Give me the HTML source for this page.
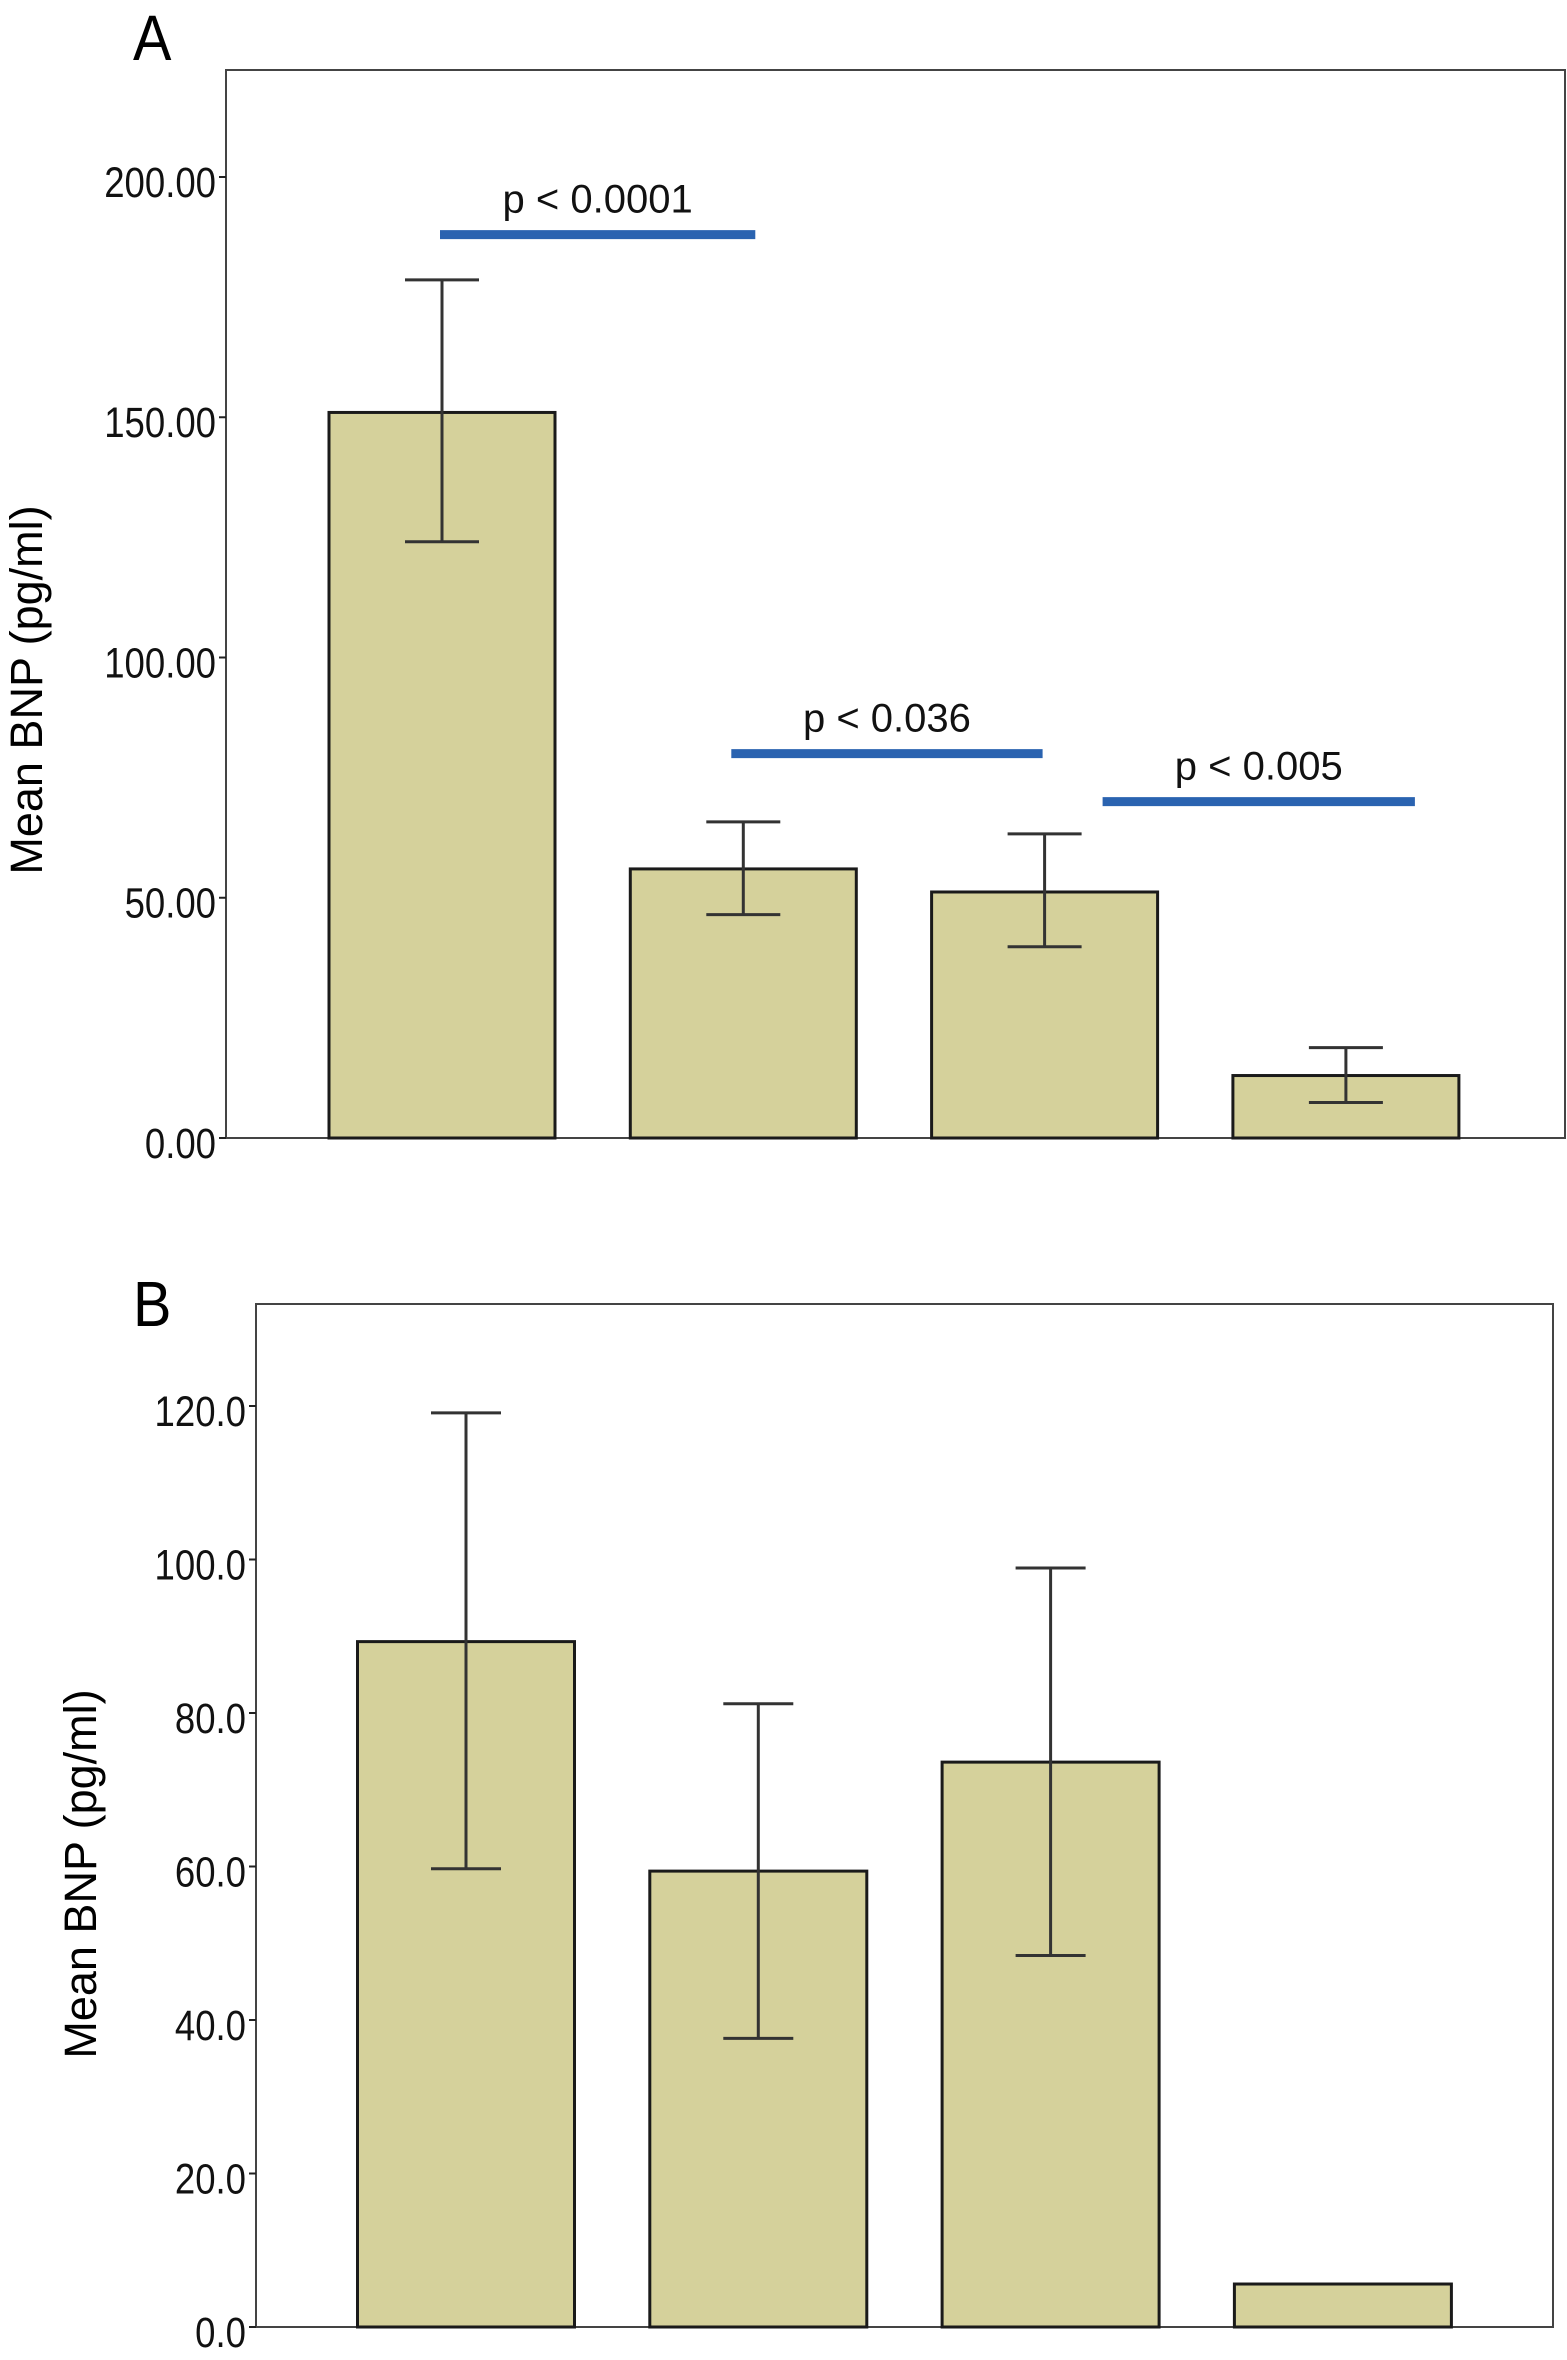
<!DOCTYPE html>
<html><head><meta charset="utf-8"><style>
html,body{margin:0;padding:0;background:#fff;}
svg{display:block;font-family:"Liberation Sans",sans-serif;}
</style></head><body>
<svg id="chart" width="1567" height="2360" viewBox="0 0 1567 2360" xmlns="http://www.w3.org/2000/svg"></svg>
<script>
// Panel A data
const catsA = ["g1","g2","g3","g4"];
const meansA = [151.0, 56.0, 51.2, 13.0];
const hiA = [178.6, 65.8, 63.3, 18.8];
const loA = [124.1, 46.5, 39.8, 7.4];
const ticksA = [0, 50, 100, 150, 200];
const tickLabelsA = ["0.00","50.00","100.00","150.00","200.00"];
const pLabels = ["p < 0.0001","p < 0.036","p < 0.005"];
const pLevels = [188, 80, 70];
const pFrom = [0, 1, 2];
// Panel B data
const catsB = ["g1","g2","g3","g4"];
const meansB = [89.3, 59.4, 73.6, 5.6];
const hiB = [119.1, 81.2, 98.9, null];
const loB = [59.7, 37.6, 48.4, null];
const ticksB = [0, 20, 40, 60, 80, 100, 120];
const tickLabelsB = ["0.0","20.0","40.0","60.0","80.0","100.0","120.0"];

// style offsets for bracket ends (pixels, not data)
const pOffL = [-2, -12, 58];
const pOffR = [12, -2, 69];

const NS = "http://www.w3.org/2000/svg";
const svg = document.getElementById("chart");
function mk(tag, attrs, parent, text){
  const e = document.createElementNS(NS, tag);
  for (const k in attrs) e.setAttribute(k, attrs[k]);
  if (text !== undefined) e.textContent = text;
  (parent || svg).appendChild(e);
  return e;
}

function panel(cfg){
  const g = mk("g", {});
  
  
  const y = v => cfg.y0 - v * (cfg.y0 - cfg.yTop) / cfg.vTop;
  const x = i => cfg.firstCenter + i * cfg.spacing;
  const fr = mk("rect", {x: cfg.left, y: cfg.top, width: cfg.right - cfg.left, height: cfg.y0 - cfg.top, fill: "none", stroke: "#444", "stroke-width": 2}, g);
  
  
  cfg.ticks.forEach((t, i) => {
    const tk = mk("line", {x1: cfg.left - 7, x2: cfg.left, y1: y(t), y2: y(t), stroke: "#222", "stroke-width": 2}, g);
    
    
    const lb = mk("text", {x: cfg.left - 10, y: y(t) + 20, "text-anchor": "end", "font-size": 43, fill: "#111", transform: `translate(${cfg.left-10},0) scale(0.85,1) translate(${-(cfg.left-10)},0)`}, g, cfg.tickLabels[i]);
    
    
  });
  cfg.means.forEach((m, i) => {
    const b = mk("rect", {x: x(i) - cfg.bw/2, y: y(m), width: cfg.bw, height: y(0) - y(m), fill: "#d5d19b", stroke: "#1a1a1a", "stroke-width": 3}, g);
    
    
    if (cfg.hi[i] !== null) {
      const eg = mk("g", {stroke: "#333", "stroke-width": 3}, g);
      
      
      mk("line", {x1: x(i), x2: x(i), y1: y(cfg.hi[i]), y2: y(cfg.lo[i])}, eg);
      mk("line", {x1: x(i) - cfg.cap, x2: x(i) + cfg.cap, y1: y(cfg.hi[i]), y2: y(cfg.hi[i])}, eg);
      mk("line", {x1: x(i) - cfg.cap, x2: x(i) + cfg.cap, y1: y(cfg.lo[i]), y2: y(cfg.lo[i])}, eg);
    }
  });
  const L = mk("text", {x: cfg.letterX, y: cfg.letterY, "font-size": 64, fill: "#000", transform: `translate(${cfg.letterX},0) scale(0.9,1) translate(${-cfg.letterX},0)`}, g, cfg.letter);
  
  
  const T = mk("text", {x: 0, y: 0, "font-size": 45, fill: "#000", "text-anchor": "middle", transform: `translate(${cfg.titleX},${cfg.titleY}) rotate(-90)`}, g, "Mean BNP (pg/ml)");
  
  
  return {x, y, g};
}

const A = panel({name: "panel-a", left: 226, right: 1565, top: 70, y0: 1138, yTop: 177, vTop: 200,
  firstCenter: 442, spacing: 301.3, bw: 226, cap: 37,
  cats: catsA, means: meansA, hi: hiA, lo: loA, ticks: ticksA, tickLabels: tickLabelsA,
  letter: "A", letterX: 133, letterY: 60, titleX: 42, titleY: 690});

pLabels.forEach((lbl, i) => {
  const x1 = A.x(pFrom[i]) + pOffL[i], x2 = A.x(pFrom[i] + 1) + pOffR[i];
  const ln = mk("line", {x1: x1, x2: x2, y1: A.y(pLevels[i]), y2: A.y(pLevels[i]), stroke: "#2a63b0", "stroke-width": 9}, A.g);
  
  
  const tx = mk("text", {x: (x1 + x2)/2, y: A.y(pLevels[i]) - 22, "text-anchor": "middle", "font-size": 40, fill: "#111"}, A.g, lbl);
  
  
});

panel({name: "panel-b", left: 256, right: 1553, top: 1304, y0: 2327, yTop: 1406, vTop: 120,
  firstCenter: 466, spacing: 292.3, bw: 217, cap: 35,
  cats: catsB, means: meansB, hi: hiB, lo: loB, ticks: ticksB, tickLabels: tickLabelsB,
  letter: "B", letterX: 133, letterY: 1326, titleX: 96, titleY: 1874});
</script>
</body></html>
